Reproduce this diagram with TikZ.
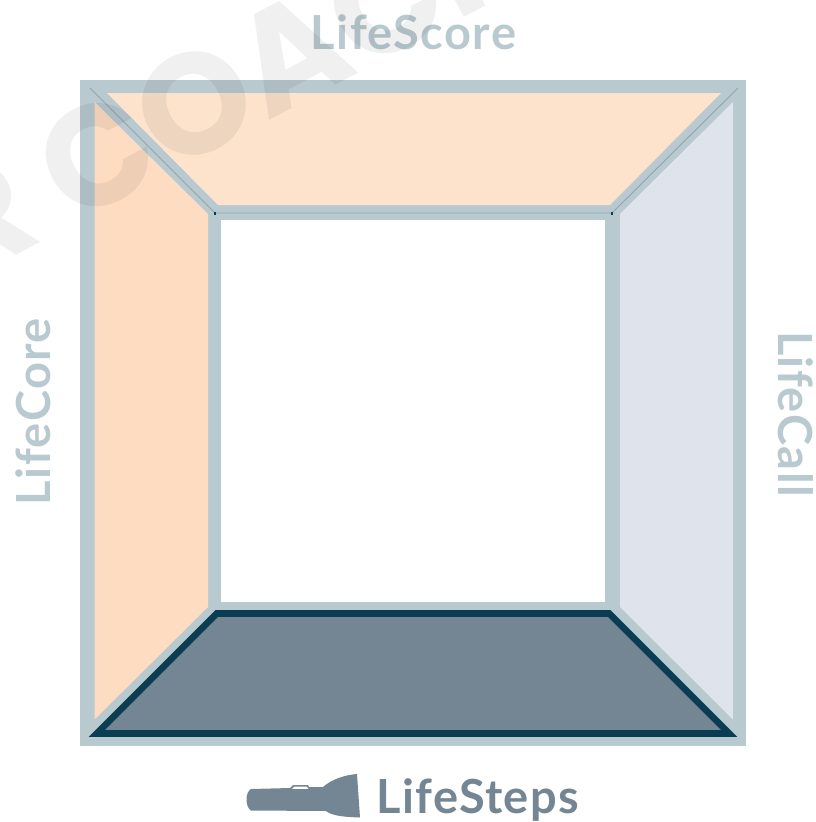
\documentclass[tikz,border=0pt]{standalone}
\usepackage{fontspec}
\setmainfont{Lato}[BoldFont={Lato Bold},LetterSpace=3]
\newfontfamily\wmfont{Poppins}
\definecolor{band}{HTML}{B9C9D0}
\definecolor{slate}{HTML}{748594}
\definecolor{deep}{HTML}{0B3D52}
\definecolor{peachA}{HTML}{FDDCC2}
\definecolor{peachB}{HTML}{FDE3CB}
\definecolor{mist}{HTML}{DFE3EB}
\definecolor{seam}{HTML}{8FA6B0}
\tikzset{
  x=1pt,y=-1pt,
  label text/.style={font=\bfseries\fontsize{47}{50}\selectfont,text=band,inner sep=0pt,anchor=base},
  seam line/.style={draw=seam,line width=0.9pt},
  wm/.style={font=\wmfont\bfseries\fontsize{143}{143}\selectfont,text=black,opacity=0.06,inner sep=0pt,anchor=base west}
}
\begin{document}
\begin{tikzpicture}
\useasboundingbox (0,0) rectangle (815,822);
\fill[band] (80,80) rectangle (746,746);
\fill[peachB] (107,93) -- (721,93) -- (610,205) -- (218,205) -- cycle;
\fill[peachA] (94.5,102) -- (208,214) -- (208,607) -- (94.5,719.5) -- cycle;
\fill[mist] (733,102) -- (620,214) -- (620,607) -- (733,719.5) -- cycle;
\fill[white] (221,219.5) rectangle (605,602);
\draw[seam line] (90,88) -- (215,213) -- (612,213) -- (738,88);
\fill[deep] (214.4,212) rectangle (215.8,214.5);
\fill[deep] (611.2,212) rectangle (612.6,214.5);
\draw[draw=deep,fill=slate,line width=6.6pt,miter limit=10,line join=miter]
  (96.7,733.5) -- (216.7,613.5) -- (609.3,613.5) -- (729.3,733.5) -- cycle;
\node[label text] (score) at (413.5,49) {LifeScore};
\node[label text,rotate=90] (core) at (50,411.5) {LifeCore};
\node[label text,rotate=-90] (call) at (778,414) {LifeCall};
\node[label text,text=slate,anchor=base west] (steps) at (376,813) {LifeSteps};
\fill[slate,even odd rule] (251,789) .. controls (245,792) and (245,807) .. (251,810.5)
  -- (326,811) .. controls (332,816) and (345,817) .. (360,817.5)
  -- (357,774) .. controls (345,775) and (332,779) .. (323,787)
  -- (309,787) -- (308,785) -- (293,785) -- (290,788) -- cycle
  (292,789) -- (294,786.5) -- (307,786.5) -- (308.5,789) -- cycle;
\clip (0,0) rectangle (815,822);
\node[wm,rotate=28] (mark) at (-37,284) {R COACH};
\end{tikzpicture}
\end{document}
